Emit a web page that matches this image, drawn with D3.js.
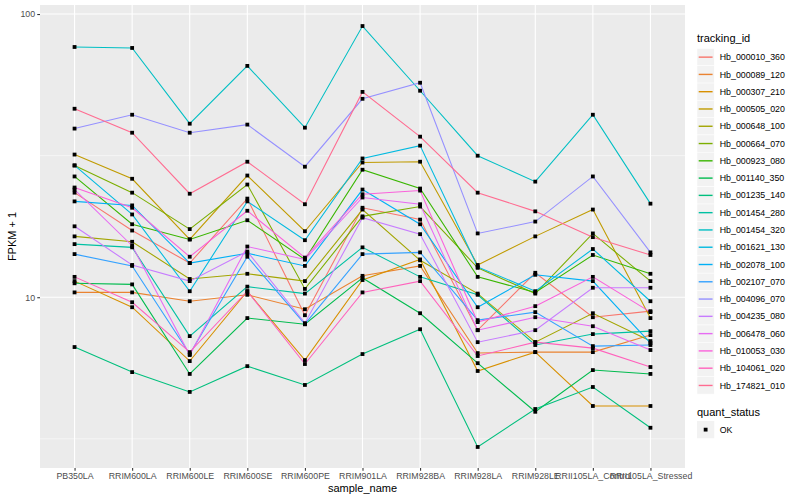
<!DOCTYPE html>
<html>
<head>
<meta charset="utf-8">
<script src="https://cdn.jsdelivr.net/npm/d3@7"></script>
<style>
  body { margin: 0; background: #fff; }
  text { font-family: "Liberation Sans", Arial, sans-serif; }
</style>
</head>
<body>
<svg id="chart" width="800" height="500"></svg>
<script>
// samples on the x axis
const samples = ["PB350LA", "RRIM600LA", "RRIM600LE", "RRIM600SE", "RRIM600PE", "RRIM901LA",
  "RRIM928BA", "RRIM928LA", "RRIM928LE", "RRII105LA_Control", "RRII105LA_Stressed"];

const trackingIds = ["Hb_000010_360", "Hb_000089_120", "Hb_000307_210", "Hb_000505_020", "Hb_000648_100",
  "Hb_000664_070", "Hb_000923_080", "Hb_001140_350", "Hb_001235_140", "Hb_001454_280", "Hb_001454_320",
  "Hb_001621_130", "Hb_002078_100", "Hb_002107_070", "Hb_004096_070", "Hb_004235_080", "Hb_006478_060",
  "Hb_010053_030", "Hb_104061_020", "Hb_174821_010"];

// ggplot hue palette, 20 levels
const colours = ["#F8766D", "#EA8331", "#D89000", "#C09B00", "#A3A500", "#7CAE00", "#39B600", "#00BB4E",
  "#00BF7D", "#00C1A3", "#00BFC4", "#00BAE0", "#00B0F6", "#35A2FF", "#9590FF", "#C77CFF", "#E76BF3",
  "#FA62DB", "#FF62BC", "#FF6C91"];

// FPKM + 1, one value per sample
const hb_000010_360 = [23.4, 17.2, 13.2, 22.3, 8.64, 20.7, 18.8, 7.65, 12.2, 8.50, 8.93];
const hb_000089_120 = [10.4, 10.4, 9.68, 10.2, 9.07, 11.9, 12.9, 6.35, 6.40, 6.40, 7.35];
const hb_000307_210 = [11.4, 9.22, 5.95, 10.5, 6.00, 11.5, 13.6, 5.49, 6.40, 4.13, 4.13];
const hb_000505_020 = [31.9, 26.2, 16.0, 26.9, 17.1, 29.9, 30.1, 13.0, 16.4, 20.4, 8.44];
const hb_000648_100 = [16.4, 15.7, 11.6, 12.1, 11.4, 20.4, 13.5, 10.3, 6.94, 8.78, 7.00];
const hb_000664_070 = [29.2, 23.4, 17.4, 25.0, 10.7, 19.3, 20.9, 12.7, 10.3, 16.8, 11.4];
const hb_000923_080 = [26.7, 18.1, 16.0, 18.7, 13.6, 28.2, 24.2, 11.8, 10.4, 14.1, 12.1];
const hb_001140_350 = [11.2, 11.1, 5.36, 8.44, 8.03, 11.7, 8.78, 5.85, 3.94, 5.53, 5.36];
const hb_001235_140 = [6.67, 5.44, 4.63, 5.71, 4.90, 6.30, 7.71, 2.96, 4.03, 4.82, 3.46];
const hb_001454_280 = [15.4, 15.0, 7.29, 10.9, 10.3, 15.0, 11.8, 10.2, 6.78, 7.41, 7.59];
const hb_001454_320 = [76.5, 75.9, 41.0, 65.6, 39.7, 90.7, 53.6, 31.6, 25.6, 44.1, 21.4];
const hb_001621_130 = [29.2, 19.6, 10.5, 21.8, 15.9, 30.9, 34.3, 12.8, 10.5, 14.8, 9.68];
const hb_002078_100 = [21.8, 21.1, 13.2, 14.3, 12.9, 24.0, 18.1, 9.22, 12.0, 11.4, 6.89];
const hb_002107_070 = [14.2, 12.9, 6.30, 13.9, 8.03, 14.2, 14.4, 8.30, 8.86, 6.72, 6.78];
const hb_004096_070 = [39.4, 44.1, 38.1, 40.7, 28.9, 50.2, 57.2, 16.8, 18.5, 26.7, 14.4];
const hb_004235_080 = [17.8, 13.0, 11.4, 14.5, 8.10, 19.1, 16.7, 6.94, 7.65, 10.8, 10.8];
const hb_006478_060 = [24.0, 15.2, 6.25, 15.1, 13.6, 22.5, 21.3, 7.65, 8.50, 7.90, 6.51];
const hb_010053_030 = [24.4, 20.7, 13.9, 20.2, 13.8, 23.1, 23.8, 8.17, 9.30, 11.8, 8.86];
const hb_104061_020 = [11.8, 9.60, 6.40, 10.5, 5.81, 10.4, 11.4, 6.20, 6.94, 6.61, 5.67];
const hb_174821_010 = [46.3, 38.1, 23.2, 30.1, 21.3, 53.1, 36.9, 23.4, 20.1, 16.3, 14.1];

const yMajor = [10, 100];
const yMinor = [Math.sqrt(10), Math.sqrt(1000)];

const allValues = [hb_000010_360, hb_000089_120, hb_000307_210, hb_000505_020, hb_000648_100,
  hb_000664_070, hb_000923_080, hb_001140_350, hb_001235_140, hb_001454_280, hb_001454_320,
  hb_001621_130, hb_002078_100, hb_002107_070, hb_004096_070, hb_004235_080, hb_006478_060,
  hb_010053_030, hb_104061_020, hb_174821_010];

const series = trackingIds.map((id, i) => ({
  id: id, colour: colours[i],
  points: allValues[i].map((v, j) => ({ sample: samples[j], value: v }))
}));

// panel area
const panel = { left: 40, right: 685, top: 5, bottom: 468 };
const svg = d3.select("#chart");

const x = d3.scalePoint().domain(samples).range([panel.left, panel.right]).padding(0.6);

// log scale, expanded by 5% of the log range like ggplot
const ext = d3.extent(allValues.flat());
const lo = Math.log10(ext[0]), hi = Math.log10(ext[1]), pad = (hi - lo) * 0.05;
const y = d3.scaleLog().domain([Math.pow(10, lo - pad), Math.pow(10, hi + pad)]).range([panel.bottom, panel.top]);

svg.append("rect")
  .attr("x", panel.left).attr("y", panel.top)
  .attr("width", panel.right - panel.left).attr("height", panel.bottom - panel.top)
  .attr("fill", "#EBEBEB");

// grid
svg.selectAll(".minor").data(yMinor).join("line")
  .attr("x1", panel.left).attr("x2", panel.right)
  .attr("y1", d => y(d)).attr("y2", d => y(d))
  .attr("stroke", "#fff").attr("stroke-width", 0.55);
svg.selectAll(".major").data(yMajor).join("line")
  .attr("x1", panel.left).attr("x2", panel.right)
  .attr("y1", d => y(d)).attr("y2", d => y(d))
  .attr("stroke", "#fff").attr("stroke-width", 1.1);
svg.selectAll(".xgrid").data(samples).join("line")
  .attr("x1", d => x(d)).attr("x2", d => x(d))
  .attr("y1", panel.top).attr("y2", panel.bottom)
  .attr("stroke", "#fff").attr("stroke-width", 1.1);

// lines
const line = d3.line().x(d => x(d.sample)).y(d => y(d.value));
svg.append("g").selectAll("path").data(series).join("path")
  .attr("d", d => line(d.points))
  .attr("fill", "none")
  .attr("stroke", d => d.colour)
  .attr("stroke-width", 1.07);

// points (black squares)
const ps = 3.8;
svg.append("g").selectAll("g").data(series).join("g")
  .selectAll("rect").data(d => d.points).join("rect")
  .attr("x", d => x(d.sample) - ps / 2)
  .attr("y", d => y(d.value) - ps / 2)
  .attr("width", ps).attr("height", ps)
  .attr("fill", "#000");

// axes
const yAxis = svg.append("g").attr("transform", `translate(${panel.left},0)`)
  .call(d3.axisLeft(y).tickValues(yMajor).tickFormat(d3.format("d")).tickSize(2.75).tickPadding(2.2));
const xAxis = svg.append("g").attr("transform", `translate(0,${panel.bottom})`)
  .call(d3.axisBottom(x).tickSize(2.75).tickPadding(2.2));
[yAxis, xAxis].forEach(a => {
  a.select(".domain").remove();
  a.selectAll(".tick line").attr("stroke", "#333").attr("stroke-width", 1.07);
  a.selectAll(".tick text").attr("fill", "#4D4D4D").style("font-size", "8.8px")
    .style("font-family", "'Liberation Sans', Arial, sans-serif");
});

// axis titles
svg.append("text")
  .attr("x", (panel.left + panel.right) / 2).attr("y", 492)
  .attr("text-anchor", "middle").style("font-size", "11px").text("sample_name");
svg.append("text")
  .attr("transform", `translate(16,${(panel.top + panel.bottom) / 2}) rotate(-90)`)
  .attr("text-anchor", "middle").style("font-size", "11px").text("FPKM + 1");

// legend: tracking_id
const lg = svg.append("g").attr("transform", "translate(697,0)");
const keyH = 17.28, keyTop = 48.5;
lg.append("text").attr("x", 0).attr("y", 42).style("font-size", "11px").text("tracking_id");
const items = lg.selectAll(".item").data(series).join("g")
  .attr("transform", (d, i) => `translate(0,${keyTop + i * keyH})`);
items.append("rect").attr("width", keyH).attr("height", keyH).attr("fill", "#F2F2F2")
  .attr("stroke", "#fff").attr("stroke-width", 0.5);
items.append("line").attr("x1", 1.7).attr("x2", keyH - 1.7)
  .attr("y1", keyH / 2).attr("y2", keyH / 2)
  .attr("stroke", d => d.colour).attr("stroke-width", 1.4);
items.append("text").attr("x", keyH + 5.5).attr("y", keyH / 2 + 3.1)
  .style("font-size", "8.8px").text(d => d.id);

// legend: quant_status
const qs = svg.append("g").attr("transform", "translate(697,0)");
qs.append("text").attr("x", 0).attr("y", 416).style("font-size", "11px").text("quant_status");
qs.append("rect").attr("y", 421).attr("width", keyH).attr("height", keyH).attr("fill", "#F2F2F2");
qs.append("rect").attr("x", keyH / 2 - ps / 2).attr("y", 421 + keyH / 2 - ps / 2)
  .attr("width", ps).attr("height", ps).attr("fill", "#000");
qs.append("text").attr("x", keyH + 5.5).attr("y", 421 + keyH / 2 + 3.1)
  .style("font-size", "8.8px").text("OK");
</script>
</body>
</html>
